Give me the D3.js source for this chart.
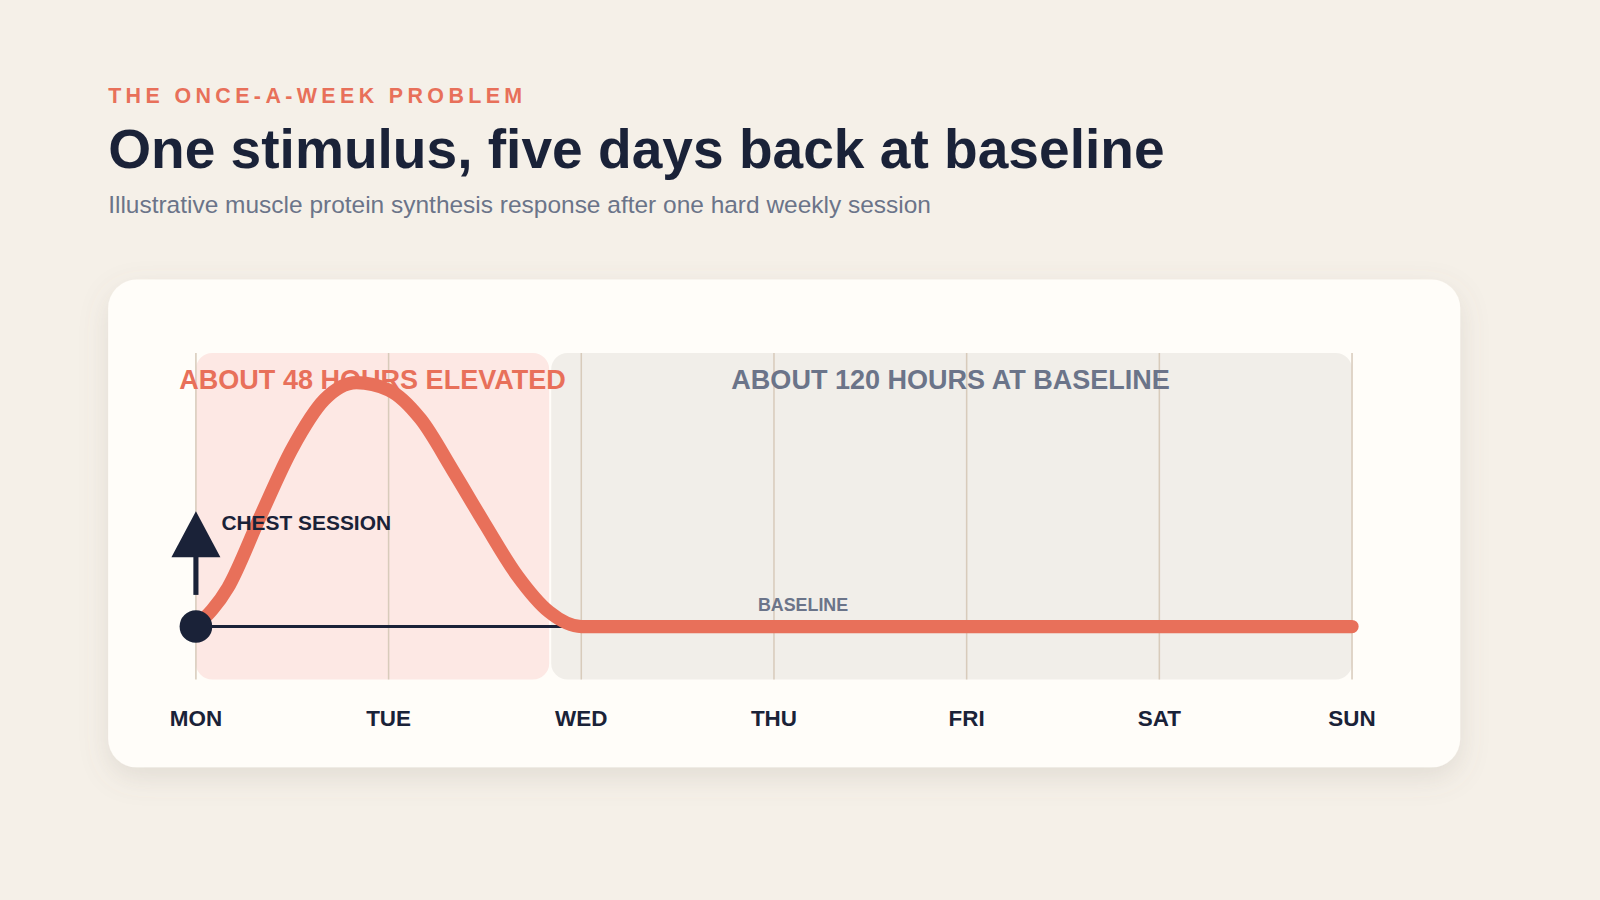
<!DOCTYPE html>
<html><head><meta charset="utf-8">
<script src="https://cdn.jsdelivr.net/npm/d3@7"></script>
<style>body{margin:0;background:#f5f0e8;font-family:"Liberation Sans",Arial,sans-serif}</style>
</head><body>
<svg id="c" width="1600" height="900"></svg>
<script>
// tick labels / days
var days = ["MON","TUE","WED","THU","FRI","SAT","SUN"];
var dayHours = [0,24,48,72,96,120,144];
// response curve (hours after session, relative level %)
var hours = [0,4,8,12,16,20,24,28,32,36,40,44,48,60,72,96,120,144];
var level = [0,16,45,73,93,100,97,85,64,42,21,6,0,0,0,0,0,0];
// bands
var bandStart = [0,44];
var bandEnd = [44,144];
var bandLabels = ["ABOUT 48 HOURS ELEVATED","ABOUT 120 HOURS AT BASELINE"];

var root = d3.select("#c");
var defs = root.append("defs");
var f = defs.append("filter").attr("id","sh").attr("x","-10%").attr("y","-10%").attr("width","120%").attr("height","130%");
f.append("feDropShadow").attr("dx",0).attr("dy",10).attr("stdDeviation",14).attr("flood-color","#7a7468").attr("flood-opacity",0.16);

var svg = root.append("g").attr("transform","scale(1.0204)");

svg.append("text").attr("x",106).attr("y",101).text("THE ONCE-A-WEEK PROBLEM")
  .attr("fill","#e8705a").attr("font-size",21).attr("font-weight","bold").attr("letter-spacing",4.3);
svg.append("text").attr("x",106).attr("y",165).text("One stimulus, five days back at baseline")
  .attr("fill","#1a2238").attr("font-size",54).attr("font-weight","bold");
svg.append("text").attr("x",106).attr("y",209).text("Illustrative muscle protein synthesis response after one hard weekly session")
  .attr("fill","#6b7489").attr("font-size",24);

svg.append("rect").attr("x",106).attr("y",274).attr("width",1325).attr("height",478).attr("rx",28)
  .attr("fill","#fffdf9").attr("filter","url(#sh)");

var x = d3.scaleLinear().domain([0,144]).range([192,1325]);
var y = d3.scaleLinear().domain([0,100]).range([614,375]);

// bands
var bandFill = ["#fde8e4","#f1eee9"];
bandStart.forEach(function(s,i){
  svg.append("rect").attr("x",x(s)+(i?2:0)).attr("y",346).attr("width",x(bandEnd[i])-x(s)-(i?2:0)).attr("height",320)
    .attr("rx",16).attr("fill",bandFill[i]);
});

// gridlines
svg.selectAll(".g").data(dayHours).enter().append("line")
  .attr("x1",function(d){return x(d);}).attr("x2",function(d){return x(d);})
  .attr("y1",346).attr("y2",666).attr("stroke","#d8cbbb").attr("stroke-width",1.5);

// baseline axis
svg.append("line").attr("x1",x(0)).attr("x2",x(46)).attr("y1",y(0)).attr("y2",y(0))
  .attr("stroke","#1a2238").attr("stroke-width",3);

// band labels
svg.append("text").attr("x",(x(0)+x(44))/2).attr("y",381).attr("text-anchor","middle").text(bandLabels[0])
  .attr("fill","#e8705a").attr("font-size",26.5).attr("font-weight","bold");
svg.append("text").attr("x",(x(44)+x(144))/2).attr("y",381).attr("text-anchor","middle").text(bandLabels[1])
  .attr("fill","#6b7489").attr("font-size",26.5).attr("font-weight","bold");

svg.append("text").attr("x",x(70)).attr("y",599).text("BASELINE")
  .attr("fill","#6b7489").attr("font-size",17.5).attr("font-weight","bold");

// curve
var line = d3.line().x(function(d,i){return x(hours[i]);}).y(function(d){return y(d);}).curve(d3.curveMonotoneX);
svg.append("path").attr("d",line(level)).attr("fill","none").attr("stroke","#e8705a")
  .attr("stroke-width",13).attr("stroke-linecap","round").attr("stroke-linejoin","round");

// session marker
svg.append("circle").attr("cx",x(0)).attr("cy",y(0)).attr("r",16).attr("fill","#1a2238");
svg.append("rect").attr("x",x(0)-2.5).attr("y",540).attr("width",5).attr("height",43).attr("fill","#1a2238");
svg.append("path").attr("d","M"+x(0)+",501L"+(x(0)+24)+",546L"+(x(0)-24)+",546Z").attr("fill","#1a2238");
svg.append("text").attr("x",217).attr("y",519).text("CHEST SESSION")
  .attr("fill","#1a2238").attr("font-size",20.5).attr("font-weight","bold");

// day labels
svg.selectAll(".d").data(days).enter().append("text")
  .attr("x",function(d,i){return x(dayHours[i]);}).attr("y",711).attr("text-anchor","middle")
  .text(function(d){return d;}).attr("fill","#1a2238").attr("font-size",22).attr("font-weight","bold");
</script>
</body></html>
